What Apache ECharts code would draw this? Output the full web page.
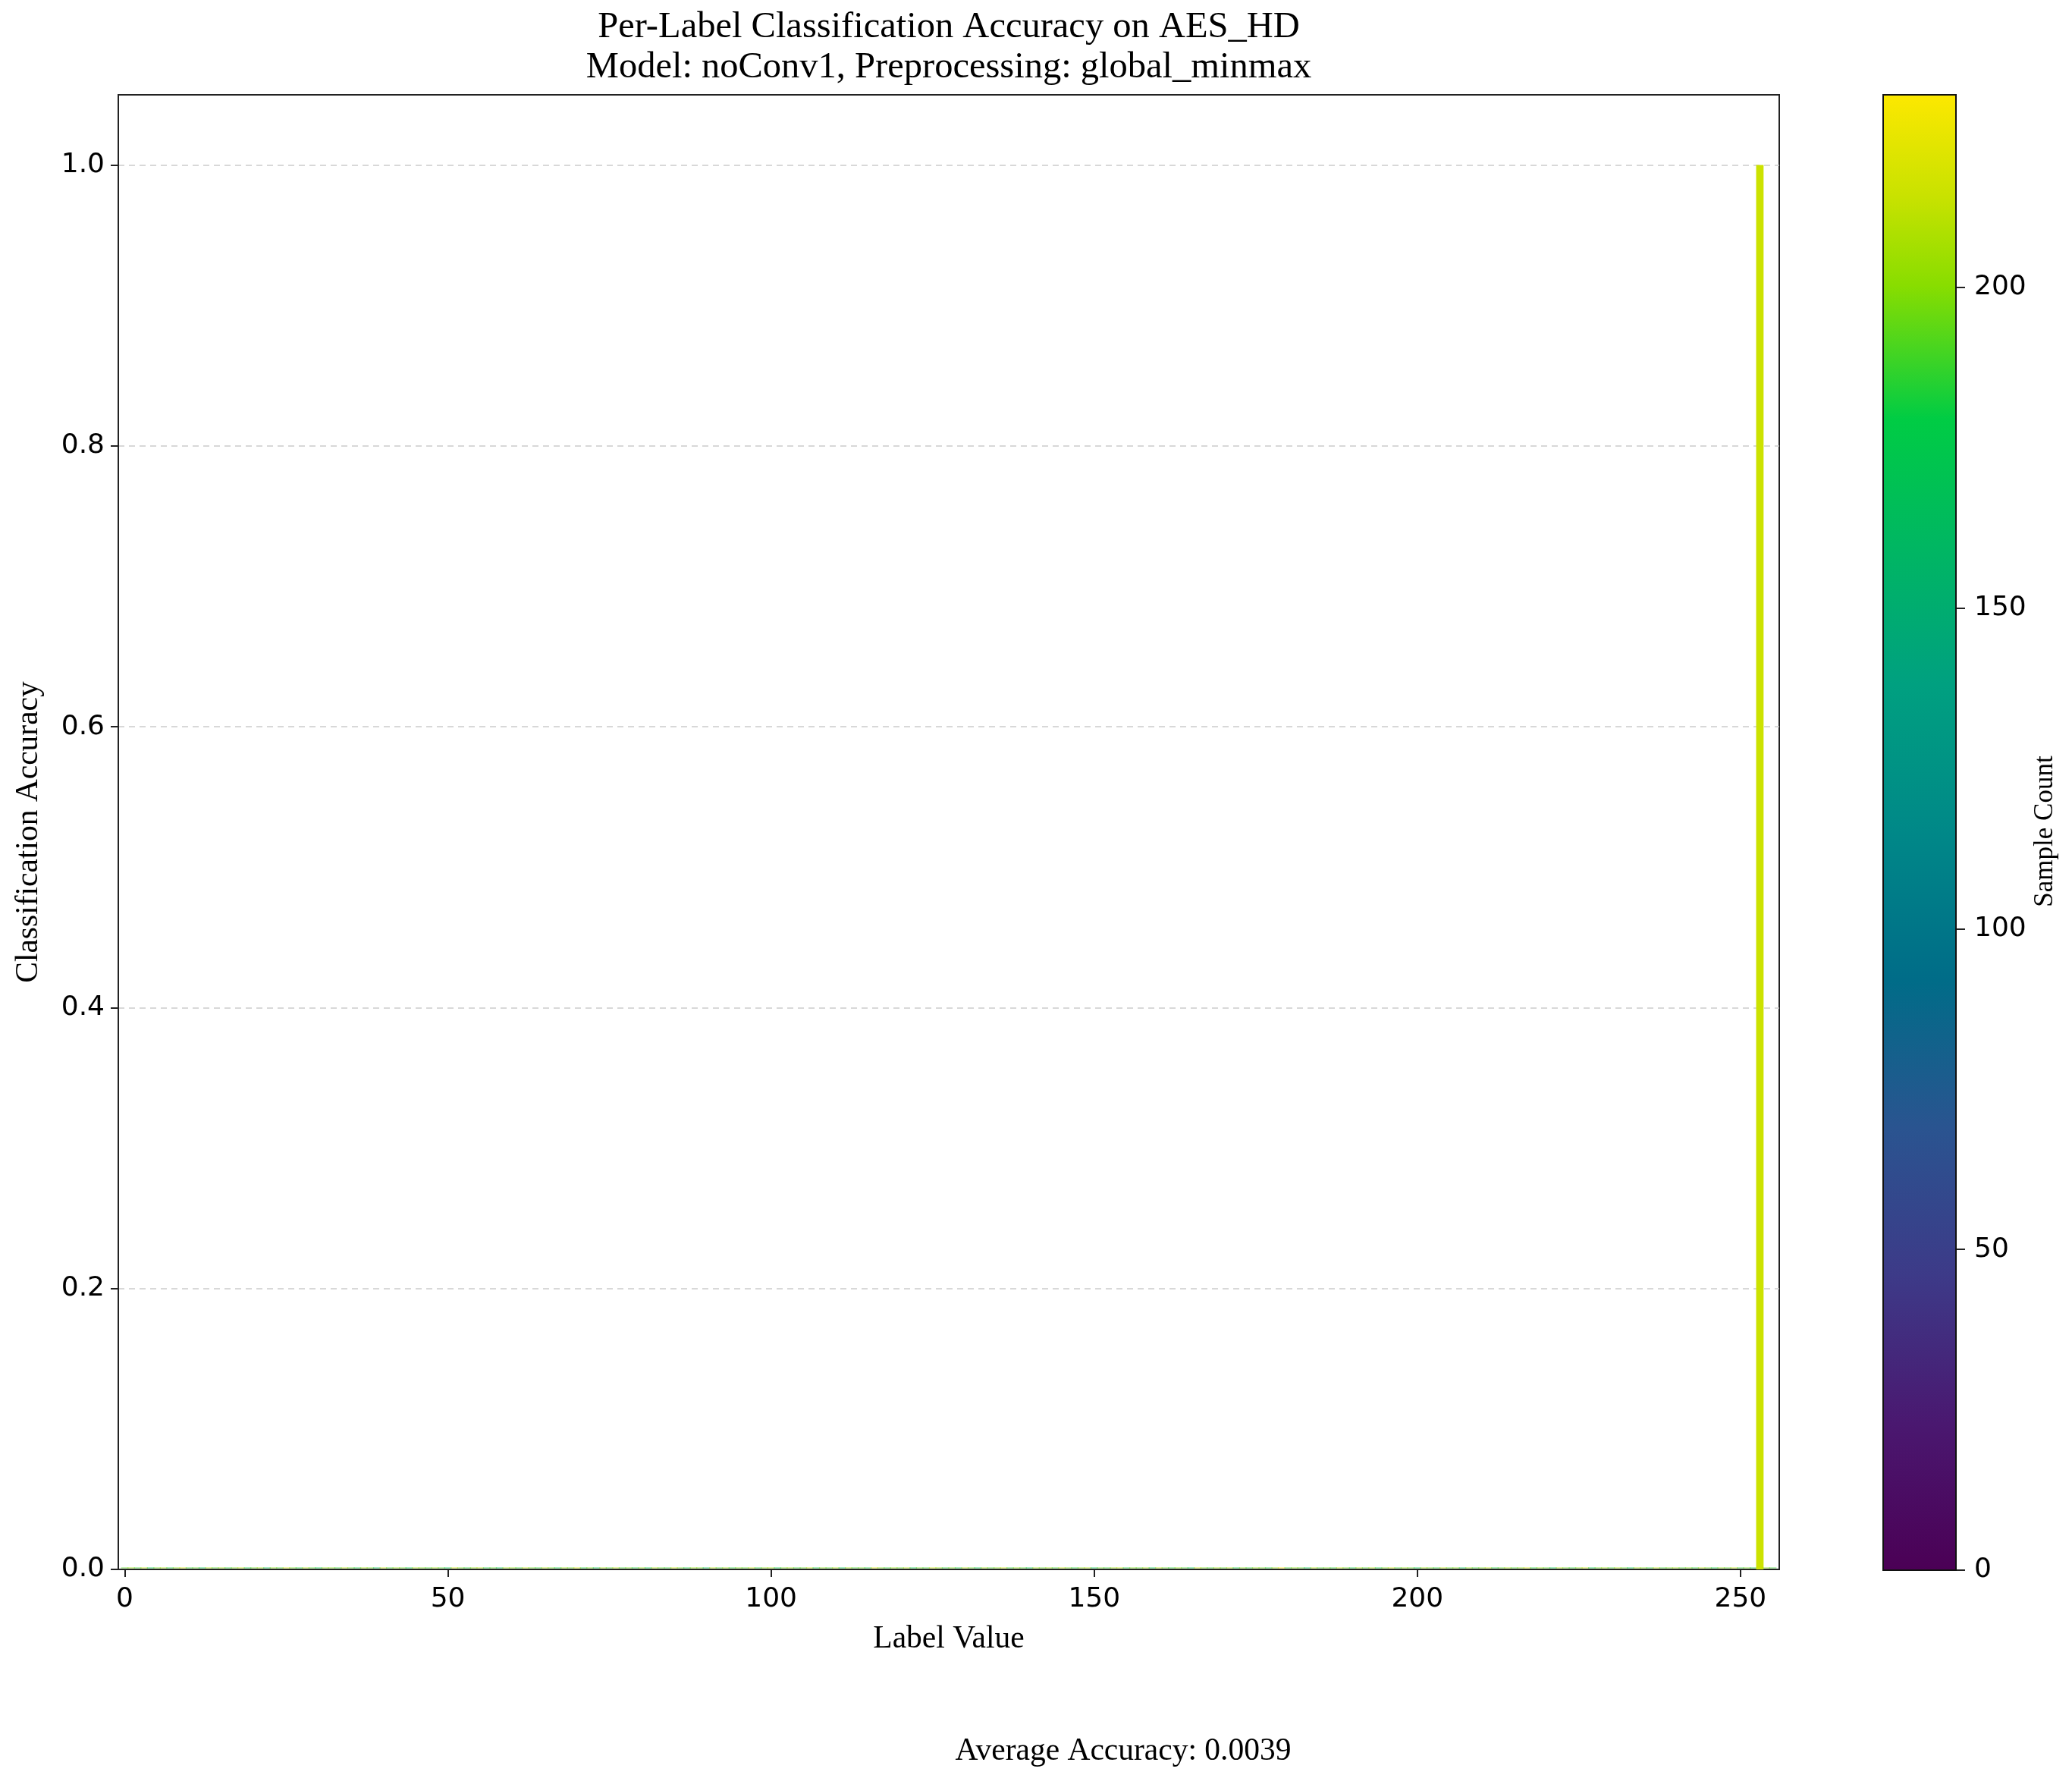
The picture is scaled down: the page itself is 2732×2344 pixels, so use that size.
<!DOCTYPE html>
<html>
<head>
<meta charset="utf-8">
<script src="https://cdn.jsdelivr.net/npm/echarts@6/dist/echarts.min.js"></script>
<style>html,body{margin:0;padding:0;background:#fff;}#chart{width:2732px;height:2344px;}</style>
</head>
<body>
<div id="chart"></div>
<script>
// ---- data ----
const labels = Array.from({length: 256}, (_, i) => i);
// accuracy per label: only label 253 is correct
const accuracy = labels.map(l => (l === 253 ? 1.0 : 0.0));
// sample count per label (estimated)
const sampleCounts = [
 192,201,188,210,179,196,205,183,199,214,187,193,176,208,190,202,
 185,197,211,181,194,203,172,199,189,216,195,184,207,191,178,200,
 198,186,209,193,182,204,195,170,212,188,201,194,180,206,197,189,
 203,191,177,215,196,185,200,208,183,192,174,205,199,187,210,194,
 186,207,195,181,202,193,218,184,197,175,204,190,209,188,196,183,
 200,179,206,192,187,213,194,182,201,196,171,208,189,203,185,197,
 191,210,184,199,205,178,196,202,187,193,211,181,198,190,206,176,
 204,188,195,183,219,197,186,201,192,207,180,195,188,212,199,185,
 197,182,208,194,176,203,190,198,213,186,200,191,177,205,193,202,
 188,211,196,184,199,206,173,195,187,202,210,183,197,191,204,180,
 209,193,185,200,190,178,214,196,188,203,192,207,181,198,186,201,
 195,184,202,230,187,199,193,175,208,190,196,186,211,194,182,205,
 190,206,181,197,212,188,200,194,179,203,195,185,209,192,198,174,
 201,187,196,209,183,192,205,189,198,216,184,200,191,177,207,194,
 186,199,212,180,195,202,188,206,193,179,204,197,185,210,189,196,
 203,190,198,185,207,194,181,200,192,211,187,196,183,215,199,188
];
const xTicks = [0, 50, 100, 150, 200, 250];
const yTicks = [0, 0.2, 0.4, 0.6, 0.8, 1.0];
const cbTicks = [0, 50, 100, 150, 200];
const averageAccuracy = 0.0039;

// colour map as it appears in the picture (viridis-like, vivid)
const cmapStops = [0, 0.1, 0.2, 0.3, 0.4, 0.5, 0.6, 0.7, 0.78, 0.87, 0.93, 1.0];
const cmapColors = ['#4b0055','#4a1870','#3d3a88','#2a5490','#006c88','#008888','#00a080','#00b860','#00cc44','#88dd00','#c8e200','#fde800'];
const countMax = Math.max(...sampleCounts);

const barData = labels.map((l, i) => [l, accuracy[i], sampleCounts[i]]);

const chart = echarts.init(document.getElementById('chart'), null, {renderer: 'canvas'});
const tickFont = {fontFamily: 'DejaVu Sans', fontSize: 36, color: '#000'};
const serif = 'Liberation Serif';
const BAR_HALF = 0.575;

// piecewise-linear colour lookup
function cmap(v) {
  const t = Math.max(0, Math.min(1, v / countMax));
  for (let i = 1; i < cmapStops.length; i++) {
    if (t <= cmapStops[i]) {
      const f = (t - cmapStops[i - 1]) / (cmapStops[i] - cmapStops[i - 1]);
      return echarts.color.lerp(f, [cmapColors[i - 1], cmapColors[i]]);
    }
  }
  return cmapColors[cmapColors.length - 1];
}

chart.setOption({
  backgroundColor: '#fff',
  animation: false,
  grid: [
    {left: 156, top: 125, width: 2190, height: 1944, show: true, borderColor: '#222', borderWidth: 2, backgroundColor: 'transparent'},
    {left: 2483, top: 125, width: 96, height: 1945, show: false}
  ],
  xAxis: [
    {type: 'value', gridIndex: 0, min: -1, max: 256,
     axisLine: {show: true, onZero: false, lineStyle: {color: '#222', width: 2}},
     axisTick: {show: true, length: 10, lineStyle: {color: '#222', width: 2}, customValues: xTicks},
     axisLabel: Object.assign({margin: 22, customValues: xTicks}, tickFont),
     splitLine: {show: false}},
    {type: 'value', gridIndex: 1, min: 0, max: 1, show: false}
  ],
  yAxis: [
    {type: 'value', gridIndex: 0, min: 0, max: 1.05,
     axisLine: {show: true, onZero: false, lineStyle: {color: '#222', width: 2}},
     axisTick: {show: true, length: 10, lineStyle: {color: '#222', width: 2}, customValues: yTicks},
     axisLabel: Object.assign({margin: 18, customValues: yTicks, formatter: v => v.toFixed(1)}, tickFont),
     splitLine: {show: true, lineStyle: {color: '#cccccc', width: 1.5, type: [8, 6]}}},
    {type: 'value', gridIndex: 1, min: 0, max: countMax, position: 'right',
     axisLine: {show: false, onZero: false},
     axisTick: {show: true, length: 12, lineStyle: {color: '#222', width: 2}, customValues: cbTicks},
     axisLabel: Object.assign({margin: 24, customValues: cbTicks}, tickFont),
     splitLine: {show: false}}
  ],
  series: [
    {
      type: 'custom', xAxisIndex: 0, yAxisIndex: 0, data: barData,
      encode: {x: 0, y: 1},
      renderItem: function (params, api) {
        const x = api.value(0), y = api.value(1);
        const p0 = api.coord([x - BAR_HALF, 0]);
        const p1 = api.coord([x + BAR_HALF, y]);
        const h = p0[1] - p1[1];
        const color = cmap(api.value(2));
        if (h < 1) {
          return {type: 'rect', shape: {x: p0[0], y: p0[1] - 3, width: p1[0] - p0[0], height: 2},
                  style: {fill: color, opacity: 0.35}};
        }
        return {type: 'rect', shape: {x: p0[0], y: p1[1], width: p1[0] - p0[0], height: h},
                style: {fill: color}};
      }
    },
    {
      type: 'custom', xAxisIndex: 1, yAxisIndex: 1, data: [[0, countMax]],
      silent: true,
      renderItem: function (params, api) {
        const a = api.coord([0, 0]);
        const b = api.coord([1, api.value(1)]);
        return {type: 'rect', shape: {x: a[0], y: b[1], width: b[0] - a[0], height: a[1] - b[1]},
          style: {
            fill: new echarts.graphic.LinearGradient(0, 1, 0, 0,
              cmapColors.map((c, i) => ({offset: cmapStops[i], color: c}))),
            stroke: '#111', lineWidth: 2
          }};
      }
    }
  ],
  graphic: [
    {type: 'text', x: 1251, y: 36, style: {text: 'Per-Label Classification Accuracy on AES_HD', font: '48.5px "' + serif + '"', fill: '#000', align: 'center', verticalAlign: 'middle'}},
    {type: 'text', x: 1251, y: 89, style: {text: 'Model: noConv1, Preprocessing: global_minmax', font: '48.5px "' + serif + '"', fill: '#000', align: 'center', verticalAlign: 'middle'}},
    {type: 'text', x: 1251, y: 2161, style: {text: 'Label Value', font: '41.5px "' + serif + '"', fill: '#000', align: 'center', verticalAlign: 'middle'}},
    {type: 'text', x: 38, y: 1097, rotation: Math.PI / 2, style: {text: 'Classification Accuracy', font: '41.5px "' + serif + '"', fill: '#000', align: 'center', verticalAlign: 'middle'}},
    {type: 'text', x: 2697, y: 1096, rotation: Math.PI / 2, style: {text: 'Sample Count', font: '35px "' + serif + '"', fill: '#000', align: 'center', verticalAlign: 'middle'}},
    {type: 'text', x: 1481, y: 2309, style: {text: 'Average Accuracy: ' + averageAccuracy.toFixed(4), font: '41.5px "' + serif + '"', fill: '#000', align: 'center', verticalAlign: 'middle'}}
  ]
});
</script>
</body>
</html>
